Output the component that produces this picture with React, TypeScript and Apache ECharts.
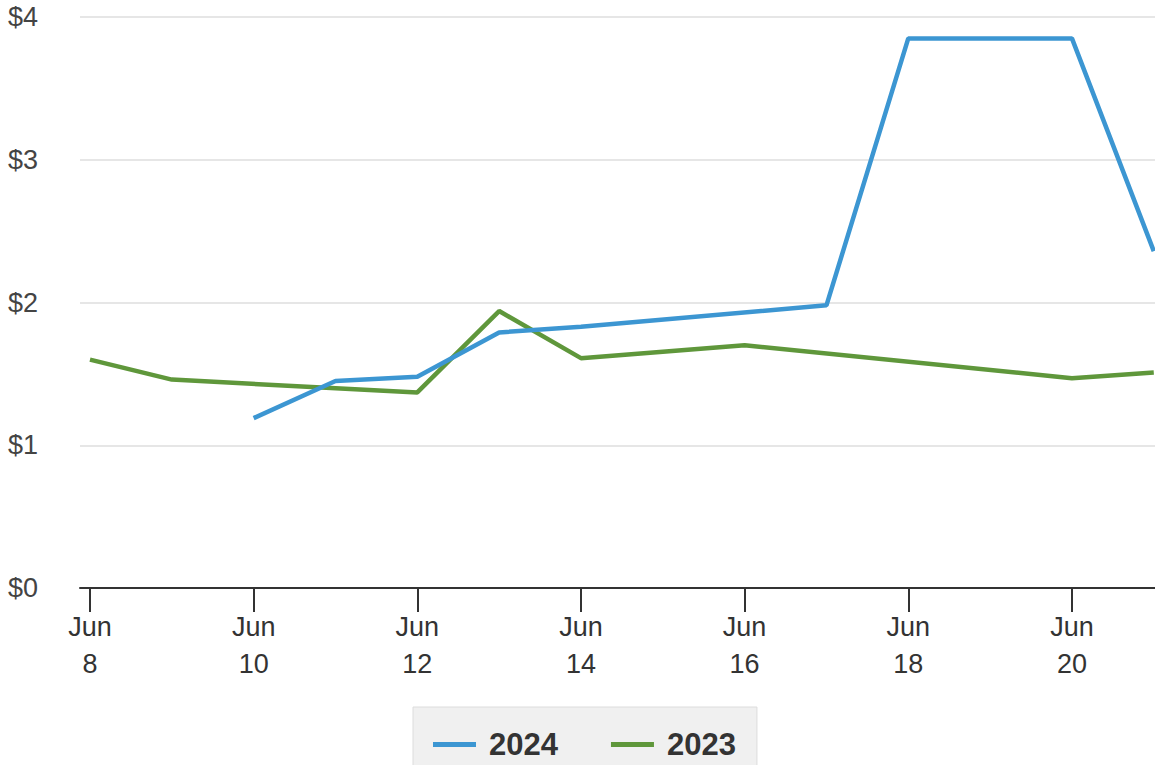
import React, { useEffect, useRef } from "react";
import * as echarts from "echarts";

const tickDays = [8, 10, 12, 14, 16, 18, 20, 22];
const labelDays = [8, 10, 12, 14, 16, 18, 20];
const yTicks = [0, 1, 2, 3, 4];

const days2024 = [10, 11, 12, 13, 14, 17, 18, 20, 21];
const values2024 = [1.19, 1.45, 1.48, 1.79, 1.83, 1.98, 3.85, 3.85, 2.36];

const days2023 = [8, 9, 12, 13, 14, 16, 20, 21];
const values2023 = [1.6, 1.46, 1.37, 1.94, 1.61, 1.7, 1.47, 1.51];

const seriesNames = ["2024", "2023"];
const seriesColors = ["#3c96d2", "#5f973b"];

export default function App() {
  const ref = useRef<HTMLDivElement>(null);
  useEffect(() => {
    if (!ref.current) return;
    const chart = echarts.init(ref.current, undefined, { renderer: "svg" });
    const font = "'Liberation Sans', Arial, sans-serif";
    chart.setOption({
      animation: false,
      textStyle: { fontFamily: font },
      grid: { left: 80, top: 17, width: 1155.6, height: 571, containLabel: false },
      xAxis: {
        type: "value",
        min: 7.878,
        max: 22,
        splitLine: { show: false },
        axisLine: { show: true, lineStyle: { color: "#333", width: 2 } },
        axisTick: { show: true, length: 24, lineStyle: { color: "#333", width: 2 }, customValues: tickDays },
        axisLabel: {
          customValues: labelDays,
          formatter: (v: number) => `Jun\n${v}`,
          fontSize: 27,
          lineHeight: 37,
          margin: 20,
          color: "#333",
          fontFamily: font,
        },
      },
      yAxis: {
        type: "value",
        min: yTicks[0],
        max: yTicks[yTicks.length - 1],
        interval: 1,
        axisLine: { show: false },
        axisTick: { show: false },
        splitLine: { show: true, lineStyle: { color: "#e6e6e6", width: 2 } },
        axisLabel: {
          formatter: (v: number) => `$${v}`,
          fontSize: 27,
          margin: 42,
          color: "#444",
          fontFamily: font,
        },
      },
      legend: {
        show: true,
        left: 413,
        top: 707,
        orient: "horizontal",
        backgroundColor: "#f0f0f0",
        borderColor: "#dcdcdc",
        borderWidth: 1,
        borderRadius: 0,
        padding: [22, 21, 22, 20],
        itemGap: 53,
        itemWidth: 43,
        itemHeight: 5,
        icon: "rect",
        textStyle: { fontSize: 31, fontWeight: "bold", color: "#333", fontFamily: font, padding: [0, 0, 0, 8] },
        data: seriesNames,
      },
      series: [
        {
          name: seriesNames[0],
          type: "line",
          data: days2024.map((d, i) => [d, values2024[i]]),
          showSymbol: false,
          lineStyle: { width: 4.5, color: seriesColors[0] },
          itemStyle: { color: seriesColors[0] },
          z: 3,
        },
        {
          name: seriesNames[1],
          type: "line",
          data: days2023.map((d, i) => [d, values2023[i]]),
          showSymbol: false,
          lineStyle: { width: 4.5, color: seriesColors[1] },
          itemStyle: { color: seriesColors[1] },
          z: 2,
        },
      ],
    });
    return () => chart.dispose();
  }, []);
  return (
    <div style={{ position: "fixed", left: 0, top: 0, width: 1155, height: 765, overflow: "hidden", background: "#fff" }}>
      <div ref={ref} style={{ width: 1260, height: 800 }} />
    </div>
  );
}
